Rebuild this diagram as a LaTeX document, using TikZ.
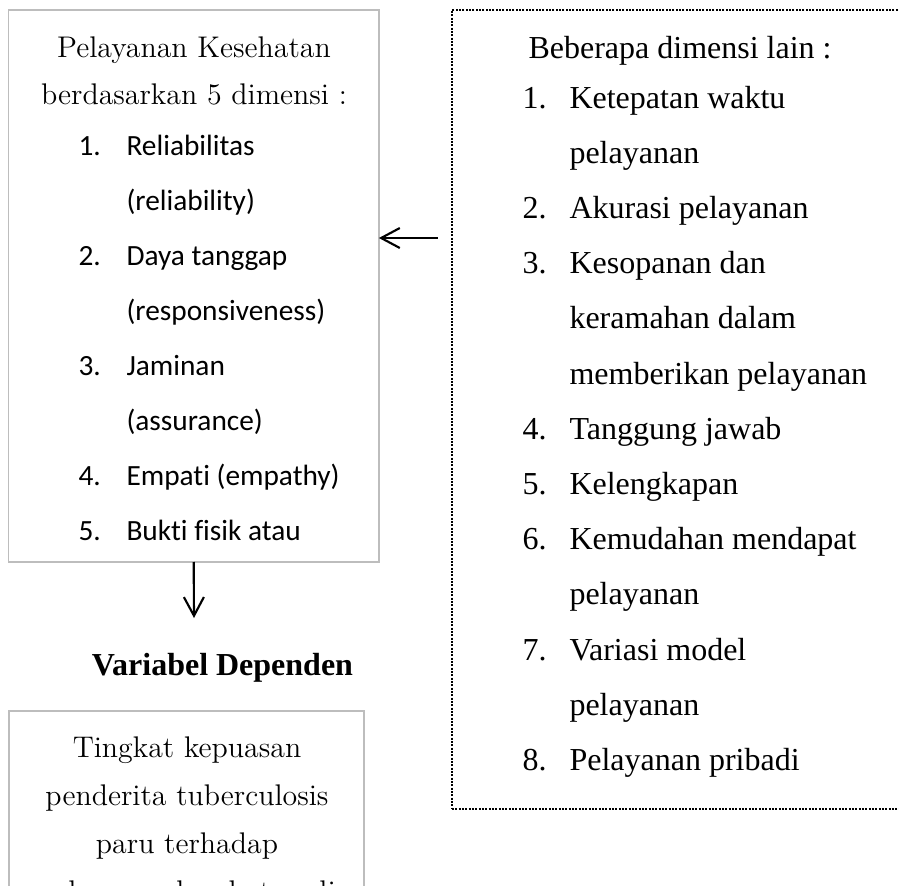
\documentclass[tikz,border=0pt]{standalone}
\usepackage{fontspec}
\newfontfamily\timesf{Liberation Serif}
\newfontfamily\calf[Ligatures={NoCommon,NoRequired,NoContextual}]{Carlito}
\usetikzlibrary{arrows.meta}
\definecolor{boxgray}{HTML}{BDBDBD}
\begin{document}
\begin{tikzpicture}[x=0.375pt,y=-0.375pt,
  graybox/.style={draw=boxgray, line width=0.55pt, inner sep=0pt, outer sep=0pt, anchor=north west},
  dotbox/.style={draw=black, line width=0.95pt, dash pattern=on 0.7pt off 0.55pt, inner sep=0pt, outer sep=0pt, anchor=north west},
  cs/.style={font=\fontsize{11.2}{13}\selectfont, anchor=base, inner sep=0pt},
  tnr/.style={font=\timesf\fontsize{12}{14}\selectfont, anchor=base west, inner sep=0pt},
  cal/.style={font=\calf\fontsize{11}{13}\selectfont, anchor=base west, inner sep=0pt},
  conn/.style={line width=0.8pt, -{Straight Barb[length=7pt,width=7.5pt,line width=0.8pt]}}]
\clip (0,0) rectangle (899,886);
% boxes
\node[graybox, minimum width=138.9pt, minimum height=207pt] (left) at (8.5,10) {};
\node[dotbox, minimum width=180pt, minimum height=299.6pt] (right) at (452,10) {};
\node[graybox, minimum width=133.1pt, minimum height=120pt] (bottom) at (9,711) {};
% left box text
\node[cs] (lh1) at (194,57) {Pelayanan Kesehatan};
\node[cs] (lh2) at (194,104) {berdasarkan 5 dimensi :};
\node[cal] (ln1) at (78,155) {1.};
\node[cal] (lt1) at (126,155) {Reliabilitas};
\node[cal] (lt1b) at (126,210) {(reliability)};
\node[cal] (ln2) at (78,265) {2.};
\node[cal] (lt2) at (126,265) {Daya tanggap};
\node[cal] (lt2b) at (126,320) {(responsiveness)};
\node[cal] (ln3) at (78,375) {3.};
\node[cal] (lt3) at (126,375) {Jaminan};
\node[cal] (lt3b) at (126,430) {(assurance)};
\node[cal] (ln4) at (78,485) {4.};
\node[cal] (lt4) at (126,485) {Empati (empathy)};
\node[cal] (ln5) at (78,540) {5.};
\node[cal] (lt5) at (126,540) {Bukti fisik atau};
% right box text
\node[tnr] (rh) at (528,58) {Beberapa dimensi lain :};
\node[tnr] (rn1) at (522,108) {1.};
\node[tnr] (rt1) at (569,108) {Ketepatan waktu};
\node[tnr] (rt1b) at (569,163.2) {pelayanan};
\node[tnr] (rn2) at (522,218.4) {2.};
\node[tnr] (rt2) at (569,218.4) {Akurasi pelayanan};
\node[tnr] (rn3) at (522,273.6) {3.};
\node[tnr] (rt3) at (569,273.6) {Kesopanan dan};
\node[tnr] (rt3b) at (569,328.8) {keramahan dalam};
\node[tnr] (rt3c) at (569,384) {memberikan pelayanan};
\node[tnr] (rn4) at (522,439.2) {4.};
\node[tnr] (rt4) at (569,439.2) {Tanggung jawab};
\node[tnr] (rn5) at (522,494.4) {5.};
\node[tnr] (rt5) at (569,494.4) {Kelengkapan};
\node[tnr] (rn6) at (522,549.6) {6.};
\node[tnr] (rt6) at (569,549.6) {Kemudahan mendapat};
\node[tnr] (rt6b) at (569,604.8) {pelayanan};
\node[tnr] (rn7) at (522,660) {7.};
\node[tnr] (rt7) at (569,660) {Variasi model};
\node[tnr] (rt7b) at (569,715.2) {pelayanan};
\node[tnr] (rn8) at (522,770.4) {8.};
\node[tnr] (rt8) at (569,770.4) {Pelayanan pribadi};
% dependent label
\node[tnr, anchor=base, font=\timesf\bfseries\fontsize{12}{14}\selectfont] (dep) at (222.5,675) {Variabel Dependen};
% bottom box text
\node[cs] (b1) at (187,757) {Tingkat kepuasan};
\node[cs] (b2) at (187,805) {penderita tuberculosis};
\node[cs] (b3) at (187,853) {paru terhadap};
\node[cs] (b4) at (187,901) {pelayanan kesehatan di};
% connectors
\coordinate (src) at (438,238);
\coordinate (downend) at (194,618);
\draw[conn] (src) -- (src -| left.east);
\draw[conn] (left.south) -- (downend);
\end{tikzpicture}
\end{document}
